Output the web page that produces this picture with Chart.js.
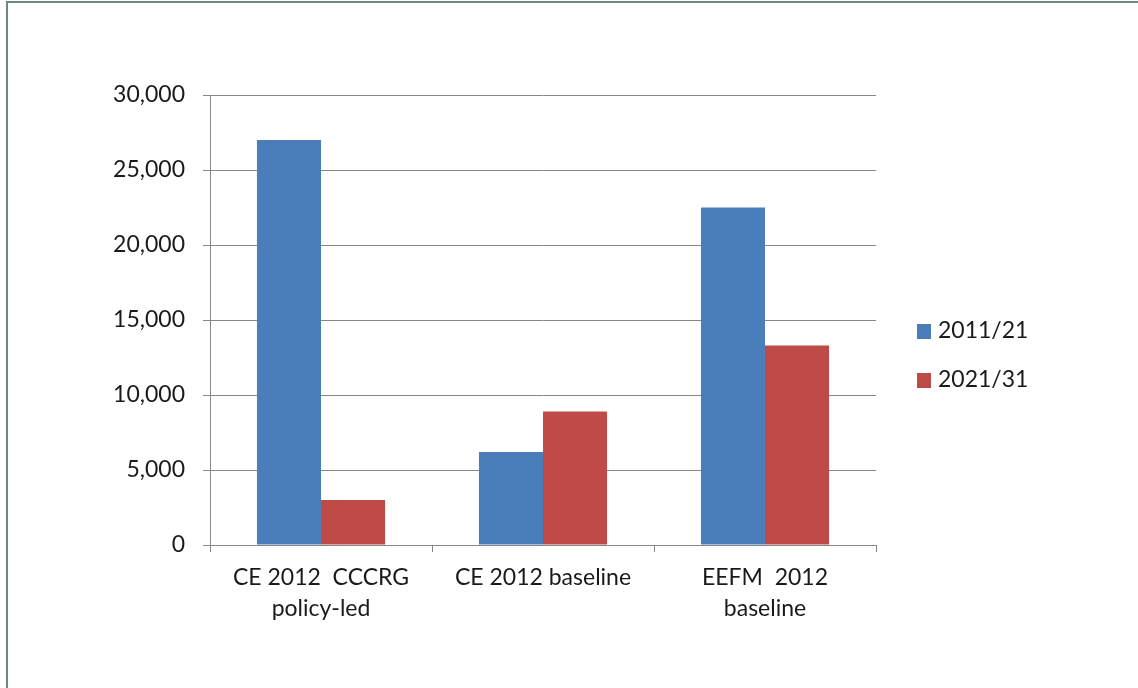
<!DOCTYPE html>
<html>
<head>
<meta charset="utf-8">
<script src="https://cdn.jsdelivr.net/npm/chart.js@4/dist/chart.umd.min.js"></script>
<style>
  html, body { margin: 0; padding: 0; background: #fff; }
  #wrap { position: relative; width: 1138px; height: 688px; overflow: hidden; }
  #frame {
    position: absolute; left: 6px; top: 1px; right: -4px; bottom: -4px;
    border-left: 2px solid #6f8a7b; border-top: 2px solid #6f8a7b;
    pointer-events: none;
  }
  canvas { position: absolute; left: 0; top: 0; }
</style>
</head>
<body>
<div id="wrap">
  <canvas id="chart" width="1138" height="688"></canvas>
  <div id="frame"></div>
</div>
<script>
// data
const categories = [["CE 2012  CCCRG", "policy-led"], "CE 2012 baseline", ["EEFM  2012", "baseline"]];
const seriesNames = ["2011/21", "2021/31"];
const values2011 = [27000, 6200, 22500];
const values2021 = [3000, 8900, 13300];
const yTicks = [0, 5000, 10000, 15000, 20000, 25000, 30000];

const colors = ["#4a7ebb", "#be4b48"];
const gridColor = "#888888";
const fontFamily = "Lato, 'Open Sans', sans-serif";

Chart.defaults.font.family = fontFamily;
Chart.defaults.font.size = 23;
Chart.defaults.color = "#1a1a1a";
Chart.defaults.animation = false;

// simple legend drawn on the right, beside the plot
const sideLegend = {
  id: "sideLegend",
  afterDraw(chart) {
    const ctx = chart.ctx;
    const x = chart.chartArea.right + 41;
    const rows = [331, 380];
    ctx.save();
    ctx.font = "23px " + fontFamily;
    ctx.textBaseline = "middle";
    ctx.textAlign = "left";
    chart.data.datasets.forEach((ds, i) => {
      ctx.fillStyle = ds.backgroundColor;
      ctx.fillRect(x, rows[i] - 7, 14, 15);
      ctx.fillStyle = "#1a1a1a";
      ctx.fillText(ds.label, x + 21, rows[i]);
    });
    ctx.restore();
  },
};

new Chart(document.getElementById("chart"), {
  type: "bar",
  data: {
    labels: categories,
    datasets: [
      { label: seriesNames[0], data: values2011, backgroundColor: colors[0] },
      { label: seriesNames[1], data: values2021, backgroundColor: colors[1] },
    ],
  },
  options: {
    responsive: false,
    devicePixelRatio: 1,
    layout: { padding: { top: 95, right: 262, bottom: 0, left: 0 } },
    datasets: { bar: { categoryPercentage: 0.577, barPercentage: 1 } },
    plugins: {
      legend: { display: false },
      tooltip: { enabled: false },
    },
    scales: {
      x: {
        grid: {
          offset: true,
          drawOnChartArea: false,
          drawTicks: true,
          tickLength: 7,
          color: gridColor,
        },
        border: { color: gridColor },
        ticks: { padding: 10, font: { size: 23, lineHeight: 1.35 }, maxRotation: 0, autoSkip: false },
        afterFit: (scale) => { scale.height = 143; },
      },
      y: {
        min: 0,
        max: 30000,
        afterBuildTicks: (scale) => { scale.ticks = yTicks.map((v) => ({ value: v })); },
        grid: { color: gridColor, tickLength: 7 },
        border: { color: gridColor },
        ticks: {
          padding: 18,
          callback: (v) => Number(v).toLocaleString("en-US"),
        },
        afterFit: (scale) => { scale.width = 210; },
      },
    },
  },
  plugins: [sideLegend],
});
</script>
</body>
</html>
